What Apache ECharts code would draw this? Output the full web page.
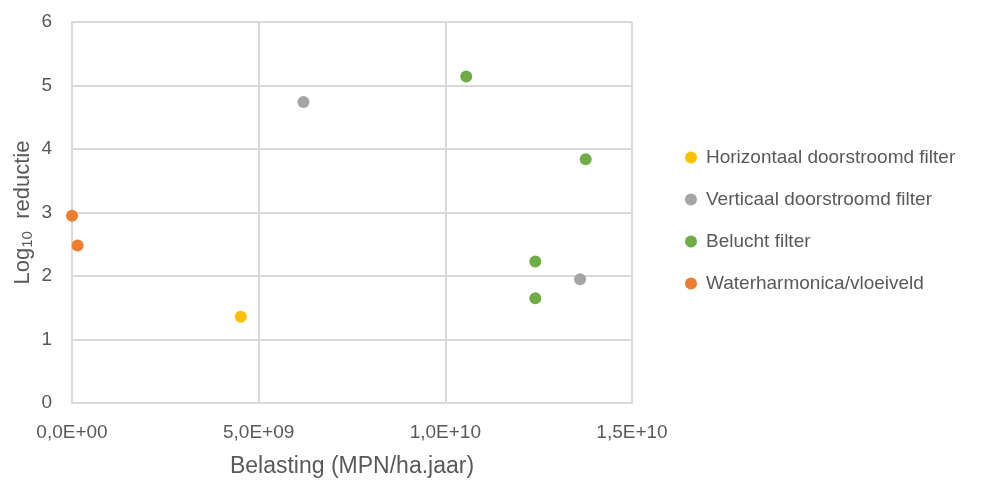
<!DOCTYPE html>
<html><head><meta charset="utf-8">
<script src="https://cdn.jsdelivr.net/npm/echarts@6/dist/echarts.min.js"></script>
<style>html,body{margin:0;padding:0;background:#fff}#c{width:989px;height:483px}</style>
</head><body><div id="c"></div>
<script>
var seriesNames = ["Horizontaal doorstroomd filter", "Verticaal doorstroomd filter", "Belucht filter", "Waterharmonica/vloeiveld"];
var horizontaal = [[4.52e9, 1.36]];
var verticaal = [[6.2e9, 4.74], [1.361e10, 1.95]];
var belucht = [[1.056e10, 5.14], [1.376e10, 3.84], [1.241e10, 2.23], [1.241e10, 1.65]];
var waterharmonica = [[0, 2.95], [1.5e8, 2.48]];
var xTicks = [0, 5e9, 1e10, 1.5e10];
var yTicks = [0, 1, 2, 3, 4, 5, 6];
var colors = ["#FFC000", "#A5A5A5", "#70AD47", "#ED7D31"];

function sci(v) {
  if (v === 0) return "0,0E+00";
  var e = Math.floor(Math.log10(Math.abs(v)) + 1e-9);
  var m = v / Math.pow(10, e);
  return m.toFixed(1).replace('.', ',') + "E+" + (e < 10 ? "0" + e : e);
}
var font = "Liberation Sans";
var chart = echarts.init(document.getElementById('c'));
var datasets = [horizontaal, verticaal, belucht, waterharmonica];
chart.setOption({
  animation: false,
  textStyle: {fontFamily: font},
  grid: {left: 72, right: 357, top: 22, bottom: 78},
  legend: {
    orient: 'vertical', left: 680, top: 143, itemGap: 23, itemWidth: 12, itemHeight: 12,
    icon: 'circle',
    textStyle: {fontSize: 19, color: '#595959', fontFamily: font, padding: [0, 0, 0, 4]},
    data: seriesNames
  },
  xAxis: {
    type: 'value', min: xTicks[0], max: xTicks[xTicks.length - 1], interval: 5e9,
    name: 'Belasting (MPN/ha.jaar)', nameLocation: 'middle', nameGap: 52, nameMoveOverlap: false,
    nameTextStyle: {fontSize: 23, color: '#595959'},
    axisLine: {show: true, lineStyle: {color: '#D9D9D9', width: 2}},
    axisTick: {show: false},
    axisLabel: {fontSize: 19, color: '#595959', margin: 20, formatter: sci},
    splitLine: {show: true, lineStyle: {color: '#D9D9D9', width: 2}}
  },
  yAxis: {
    type: 'value', min: yTicks[0], max: yTicks[yTicks.length - 1], interval: 1,
    name: '{a|Log}{s|10}{a|  reductie}', nameLocation: 'middle', nameGap: 37, nameRotate: 90, nameMoveOverlap: false,
    nameTextStyle: {rich: {a: {fontSize: 22, color: '#595959', fontFamily: font}, s: {fontSize: 15, color: '#595959', verticalAlign: 'bottom', padding: [10, 0, 0, 0], fontFamily: font}}},
    axisLine: {show: true, lineStyle: {color: '#D9D9D9', width: 2}},
    axisTick: {show: false},
    axisLabel: {fontSize: 19, color: '#595959', margin: 20},
    splitLine: {show: true, lineStyle: {color: '#D9D9D9', width: 2}}
  },
  series: datasets.map(function (d, i) {
    return {name: seriesNames[i], type: 'scatter', data: d, symbolSize: 12, itemStyle: {color: colors[i], opacity: 1}};
  })
});
</script></body></html>
